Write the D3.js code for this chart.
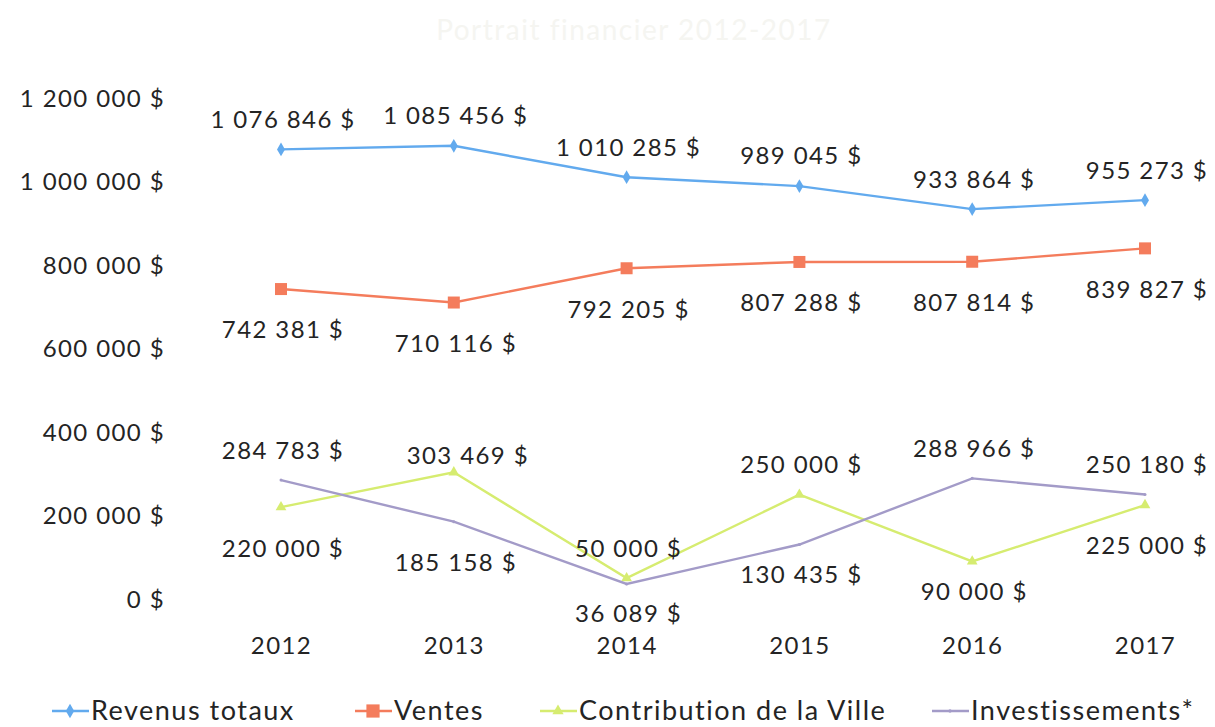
<!DOCTYPE html>
<html>
<head>
<meta charset="utf-8">
<script src="https://cdn.jsdelivr.net/npm/d3@7"></script>
<style>
  html, body { margin: 0; padding: 0; background: #ffffff; }
  svg { display: block; }
  text { font-family: Lato, "Open Sans", sans-serif; fill: #242424; }
</style>
</head>
<body>
<svg id="chart" width="1215" height="727"></svg>
<script>
const title = "Portrait financier 2012-2017";
const years = ["2012", "2013", "2014", "2015", "2016", "2017"];
const yTicks = [0, 200000, 400000, 600000, 800000, 1000000, 1200000];

const seriesNames = ["Revenus totaux", "Ventes", "Contribution de la Ville", "Investissements*"];
const revenusTotaux = [1076846, 1085456, 1010285, 989045, 933864, 955273];
const ventes = [742381, 710116, 792205, 807288, 807814, 839827];
const contributionVille = [220000, 303469, 50000, 250000, 90000, 225000];
const investissements = [284783, 185158, 36089, 130435, 288966, 250180];

// label placement relative to the point
const revenusPlacement = ["above", "above", "above", "above", "above", "above"];
const ventesPlacement = ["below", "below", "below", "below", "below", "below"];
const contributionPlacement = ["below", "aboveNear", "above", "above", "belowNear", "below"];
const investPlacement = ["above", "below", "belowNear", "belowNear", "above", "above"];

const colors = ["#62aaee", "#f47c5c", "#d6ec70", "#a39bc8"];
const markers = ["diamond", "square", "triangle", "none"];

const series = [
  { name: seriesNames[0], values: revenusTotaux, place: revenusPlacement, color: colors[0], marker: markers[0] },
  { name: seriesNames[1], values: ventes, place: ventesPlacement, color: colors[1], marker: markers[1] },
  { name: seriesNames[2], values: contributionVille, place: contributionPlacement, color: colors[2], marker: markers[2] },
  { name: seriesNames[3], values: investissements, place: investPlacement, color: colors[3], marker: markers[3] }
];

const fmt = v => d3.format(",")(v).replace(/,/g, " ") + " $";

const svg = d3.select("#chart");

svg.append("text")
  .attr("x", 634).attr("y", 40)
  .attr("text-anchor", "middle")
  .style("font-size", "28px")
  .style("letter-spacing", "1.5px")
  .style("fill", "#f5f5f1")
  .text(title);

const x = d3.scalePoint().domain(years).range([281, 1145]);
const y = d3.scaleLinear().domain([0, 1200000]).range([599, 98]);

const numFont = "24px";
const numSpacing = "1.4px";

// Y axis (labels only)
const yAxis = d3.axisLeft(y).tickValues(yTicks).tickFormat(fmt).tickSize(0).tickPadding(0);
const gy = svg.append("g").attr("transform", "translate(165,0)").call(yAxis);
gy.select(".domain").remove();
gy.selectAll("text")
  .style("font-size", numFont)
  .style("letter-spacing", numSpacing)
  .style("font-family", "Lato, 'Open Sans', sans-serif")
  .style("fill", "#242424")
  .attr("dy", "0.35em");

// X axis (labels only)
const xAxis = d3.axisBottom(x).tickSize(0).tickPadding(0);
const gx = svg.append("g").attr("transform", "translate(0,646)").call(xAxis);
gx.select(".domain").remove();
gx.selectAll("text")
  .style("font-size", numFont)
  .style("letter-spacing", numSpacing)
  .style("font-family", "Lato, 'Open Sans', sans-serif")
  .style("fill", "#242424")
  .attr("dy", "0.35em");

const line = d3.line().x((d, i) => x(years[i])).y(d => y(d));

function drawMarker(g, type, cx, cy, color, scale) {
  const s = scale || 1;
  if (type === "diamond") {
    g.append("path")
      .attr("d", d3.symbol().type(d3.symbolDiamond).size(55 * s)())
      .attr("transform", `translate(${cx},${cy})`)
      .attr("fill", color);
  } else if (type === "square") {
    g.append("rect")
      .attr("x", cx - 6 * s).attr("y", cy - 6 * s)
      .attr("width", 12 * s).attr("height", 12 * s)
      .attr("fill", color);
  } else if (type === "triangle") {
    g.append("path")
      .attr("d", d3.symbol().type(d3.symbolTriangle).size(50 * s)())
      .attr("transform", `translate(${cx},${cy})`)
      .attr("fill", color);
  } else {
    g.append("circle").attr("cx", cx).attr("cy", cy).attr("r", 1.5 * s).attr("fill", color);
  }
}

const plot = svg.append("g");
series.forEach(s => {
  const g = plot.append("g");
  g.append("path")
    .datum(s.values)
    .attr("d", line)
    .attr("fill", "none")
    .attr("stroke", s.color)
    .attr("stroke-width", 2.4);
  s.values.forEach((v, i) => {
    drawMarker(g, s.marker, x(years[i]), y(v), s.color, 1);
  });
});

// labels on top
const offsets = { above: [0, -30], aboveNear: [12, -17], below: [0, 41], belowNear: [0, 30] };
const labels = svg.append("g");
series.forEach(s => {
  s.values.forEach((v, i) => {
    const o = offsets[s.place[i]];
    labels.append("text")
      .attr("x", x(years[i]) + 2 + o[0])
      .attr("y", y(v) + o[1])
      .attr("dy", "0.35em")
      .attr("text-anchor", "middle")
      .style("font-size", numFont)
      .style("letter-spacing", numSpacing)
      .text(fmt(v));
  });
});

// Legend
const legendX = [52, 355, 540, 932];
const legend = svg.append("g").attr("transform", "translate(0,711)");
series.forEach((s, i) => {
  const g = legend.append("g").attr("transform", `translate(${legendX[i]},0)`);
  g.append("line").attr("x1", 0).attr("x2", 37).attr("y1", 0).attr("y2", 0)
    .attr("stroke", s.color).attr("stroke-width", 2.6);
  drawMarker(g, s.marker, 18, 0, s.color, 1.1);
  g.append("text")
    .attr("x", 39).attr("y", 0).attr("dy", "0.35em")
    .style("font-size", "27px")
    .style("letter-spacing", "1.5px")
    .text(s.name);
});
</script>
</body>
</html>
